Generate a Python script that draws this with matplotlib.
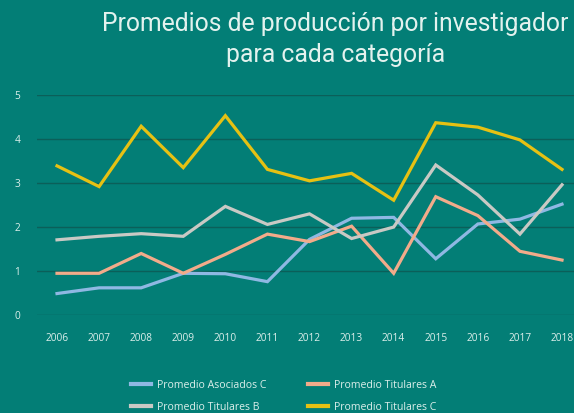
import matplotlib.pyplot as plt
from matplotlib.lines import Line2D

years = [2006, 2007, 2008, 2009, 2010, 2011, 2012, 2013, 2014, 2015, 2016, 2017, 2018]
asociados_c = [0.49, 0.62, 0.62, 0.95, 0.94, 0.76, 1.72, 2.20, 2.22, 1.28, 2.07, 2.18, 2.52]
titulares_a = [0.95, 0.95, 1.40, 0.95, 1.38, 1.84, 1.67, 2.02, 0.95, 2.69, 2.26, 1.45, 1.25]
titulares_b = [1.71, 1.79, 1.85, 1.79, 2.47, 2.06, 2.30, 1.74, 2.00, 3.41, 2.73, 1.84, 2.96]
titulares_c = [3.39, 2.92, 4.29, 3.35, 4.53, 3.31, 3.05, 3.22, 2.61, 4.37, 4.27, 3.98, 3.31]

series = [
    ("Promedio Asociados C", asociados_c, "#8fb8e3"),
    ("Promedio Titulares A", titulares_a, "#f2ab8a"),
    ("Promedio Titulares B", titulares_b, "#c9c9c4"),
    ("Promedio Titulares C", titulares_c, "#e6c113"),
]

BG = "#037e76"
TXT = "#dcefeb"

fig = plt.figure(figsize=(5.74, 4.13), dpi=100, facecolor=BG)
ax = fig.add_axes([0.0645, 0.237, 0.9355, 0.533])
ax.set_facecolor(BG)

for label, vals, col in series:
    ax.plot(years, vals, color=col, lw=2.3, label=label, solid_joinstyle="miter")

ax.set_ylim(0, 5)
ax.set_xlim(2005.525, 2018.285)
ax.set_yticks(range(0, 6))
ax.set_xticks(years)
ax.set_xticklabels([str(y) for y in years])
ax.yaxis.grid(True, color="#0b5f59", lw=1.0)
ax.set_axisbelow(True)
for s in ax.spines.values():
    s.set_visible(False)
ax.tick_params(axis="both", length=0, colors=TXT, labelsize=7.3)
ax.tick_params(axis="x", pad=13)
ax.tick_params(axis="y", pad=12)
for t in ax.get_xticklabels() + ax.get_yticklabels():
    t.set_family("Open Sans")

fig.text(0.584, 0.905, "Promedios de producción por investigador\npara cada categoría",
         ha="center", va="center", color="#e3f2ee", fontsize=17.8, family="Roboto",
         linespacing=1.36)

# legend: column order gives Asociados C / Titulares B, then Titulares A / Titulares C
handles = [Line2D([], [], color=c, lw=3) for _, _, c in series]
labels = [s[0] for s in series]
order = [0, 2, 1, 3]
leg = fig.legend([handles[i] for i in order], [labels[i] for i in order],
                 loc="upper left", bbox_to_anchor=(0.228, 0.080), ncol=2, frameon=False,
                 fontsize=7.6, handlelength=1.9, handletextpad=0.55, columnspacing=3.95,
                 labelspacing=1.0, borderaxespad=0, borderpad=0)
for t in leg.get_texts():
    t.set_color(TXT)
    t.set_family("Open Sans")

fig.savefig("out.png", dpi=100, facecolor=BG)
